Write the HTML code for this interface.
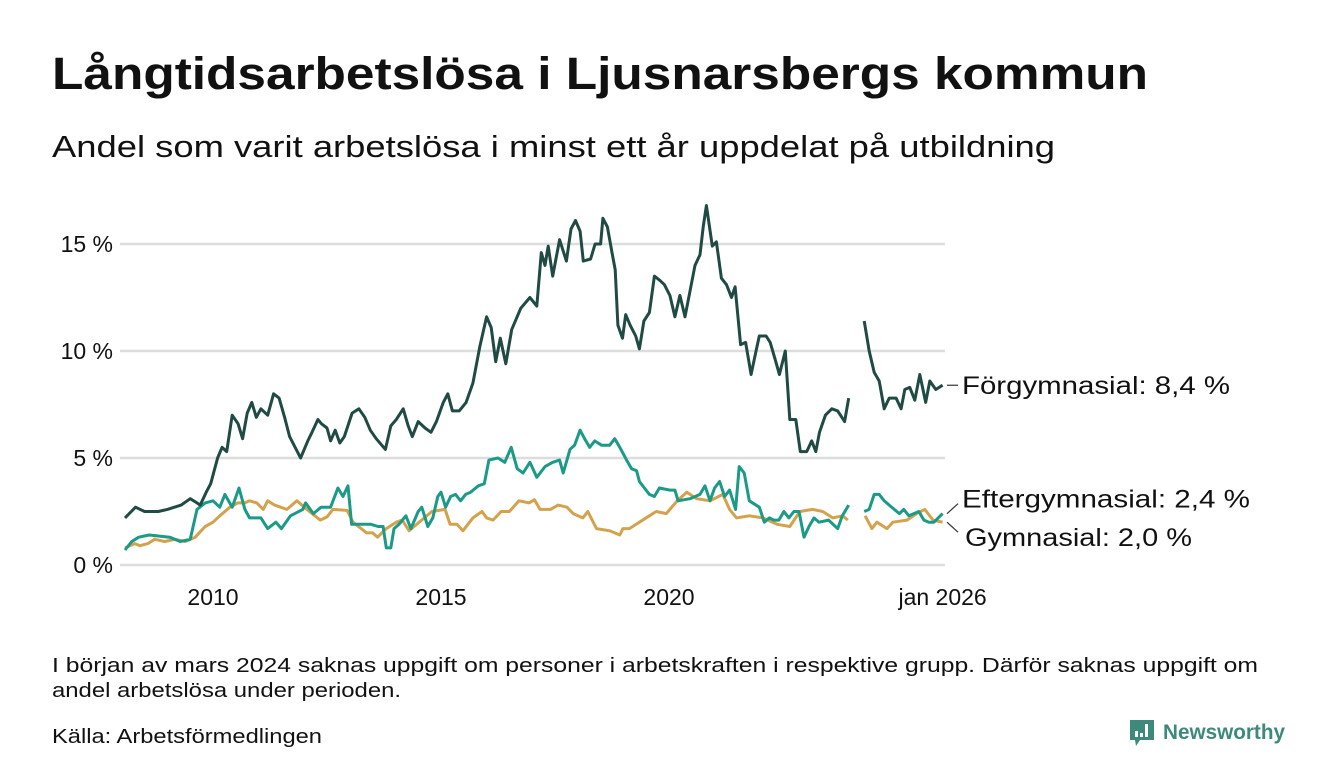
<!DOCTYPE html>
<html><head><meta charset="utf-8"><style>
html,body{margin:0;padding:0;background:#fff;}
svg{display:block;font-family:"Liberation Sans",sans-serif;}
</style></head><body>
<svg id="chart" width="1340" height="780" viewBox="0 0 1340 780">
<text x="52" y="89" font-size="45" font-weight="bold" fill="#111" textLength="1096" lengthAdjust="spacingAndGlyphs">Långtidsarbetslösa i Ljusnarsbergs kommun</text>
<text x="52" y="157" font-size="31" fill="#111" textLength="1003" lengthAdjust="spacingAndGlyphs">Andel som varit arbetslösa i minst ett år uppdelat på utbildning</text>
<g id="grid"></g>
<g id="yticks"></g>
<g id="xticks"></g>
<g id="series"></g>
<g id="labels"></g>
<text x="52" y="672" font-size="20" fill="#111" textLength="1206" lengthAdjust="spacingAndGlyphs">I början av mars 2024 saknas uppgift om personer i arbetskraften i respektive grupp. Därför saknas uppgift om</text>
<text x="52" y="697" font-size="20" fill="#111" textLength="349" lengthAdjust="spacingAndGlyphs">andel arbetslösa under perioden.</text>
<text x="52" y="743" font-size="20" fill="#111" textLength="270" lengthAdjust="spacingAndGlyphs">Källa: Arbetsförmedlingen</text>
<g>
<path d="M1130 720 h24 v20 h-14 l-4 6 l-1 -6 h-5 z" fill="#3d8a7c"/>
<rect x="1135" y="731" width="3" height="6" fill="#fff"/><rect x="1140" y="733" width="3" height="4" fill="#fff"/><rect x="1145" y="724" width="3" height="13" fill="#fff"/>
<text x="1163" y="739" font-size="21" font-weight="bold" fill="#3d8a7c" textLength="122" lengthAdjust="spacingAndGlyphs">Newsworthy</text>
</g>
</svg>
<script>
const yTicks=[0,5,10,15];
const yTickLabels=["0 %","5 %","10 %","15 %"];
const xTicks=[2010,2015,2020,2026];
const xTickLabels=["2010","2015","2020","jan 2026"];
const forDates=[2008.07,2008.3,2008.5,2008.8,2009.0,2009.3,2009.5,2009.65,2009.72,2009.85,2009.95,2010.1,2010.2,2010.3,2010.42,2010.55,2010.65,2010.75,2010.85,2010.95,2011.05,2011.2,2011.33,2011.45,2011.57,2011.68,2011.8,2011.92,2012.08,2012.17,2012.3,2012.38,2012.5,2012.58,2012.68,2012.78,2012.88,2013.05,2013.2,2013.33,2013.45,2013.58,2013.78,2013.9,2014.02,2014.17,2014.28,2014.37,2014.5,2014.65,2014.78,2014.9,2015.05,2015.15,2015.25,2015.4,2015.55,2015.7,2015.85,2016.0,2016.1,2016.2,2016.3,2016.42,2016.55,2016.75,2016.95,2017.1,2017.2,2017.28,2017.35,2017.45,2017.6,2017.75,2017.85,2017.95,2018.05,2018.12,2018.28,2018.38,2018.5,2018.55,2018.65,2018.75,2018.82,2018.88,2018.98,2019.05,2019.15,2019.27,2019.35,2019.45,2019.57,2019.68,2019.8,2019.9,2020.02,2020.13,2020.24,2020.35,2020.46,2020.57,2020.68,2020.75,2020.82,2020.95,2021.04,2021.15,2021.26,2021.37,2021.45,2021.57,2021.68,2021.8,2021.9,2021.98,2022.13,2022.22,2022.33,2022.42,2022.55,2022.65,2022.78,2022.88,2023.02,2023.13,2023.22,2023.3,2023.43,2023.57,2023.7,2023.85,2023.94,2024.1,2024.28,2024.39,2024.5,2024.61,2024.72,2024.83,2024.98,2025.09,2025.17,2025.28,2025.39,2025.5,2025.63,2025.72,2025.85,2026.0];
const forValues=[2.2,2.7,2.5,2.5,2.6,2.8,3.1,2.9,2.8,3.4,3.8,5.0,5.5,5.3,7.0,6.6,5.9,7.1,7.6,6.9,7.3,7.0,8.0,7.8,6.9,6.0,5.5,5.0,5.8,6.2,6.8,6.6,6.4,5.8,6.3,5.7,6.0,7.1,7.3,6.9,6.3,5.9,5.4,6.5,6.8,7.3,6.5,6.0,6.7,6.4,6.2,6.7,7.6,8.0,7.2,7.2,7.6,8.5,10.2,11.6,11.1,9.5,10.6,9.4,11.0,12.0,12.5,12.1,14.6,14.0,14.9,13.5,15.2,14.2,15.7,16.1,15.6,14.2,14.3,15.0,15.0,16.2,15.8,14.6,13.8,11.2,10.6,11.7,11.2,10.7,10.1,11.4,11.8,13.5,13.3,13.1,12.6,11.6,12.6,11.6,12.8,14.0,14.5,15.8,16.8,14.9,15.1,13.4,13.1,12.5,13.0,10.3,10.4,8.9,9.9,10.7,10.7,10.4,9.6,8.9,10.0,6.8,6.8,5.3,5.3,5.8,5.3,6.2,7.0,7.3,7.2,6.7,7.8,null,11.4,10.0,9.0,8.6,7.3,7.8,7.8,7.3,8.2,8.3,7.7,8.9,7.6,8.6,8.2,8.4];
const eftDates=[2008.07,2008.22,2008.37,2008.6,2009.05,2009.28,2009.5,2009.65,2009.83,2010.0,2010.15,2010.26,2010.42,2010.57,2010.7,2010.8,2011.05,2011.2,2011.38,2011.5,2011.7,2011.97,2012.03,2012.2,2012.37,2012.58,2012.74,2012.85,2012.96,2013.04,2013.46,2013.62,2013.73,2013.8,2013.9,2013.97,2014.08,2014.23,2014.34,2014.5,2014.58,2014.71,2014.82,2014.93,2015.0,2015.1,2015.21,2015.32,2015.43,2015.54,2015.65,2015.82,2015.95,2016.05,2016.25,2016.4,2016.54,2016.67,2016.8,2016.95,2017.1,2017.28,2017.45,2017.6,2017.68,2017.83,2017.93,2018.05,2018.15,2018.26,2018.37,2018.52,2018.7,2018.81,2018.92,2019.07,2019.18,2019.29,2019.35,2019.46,2019.57,2019.68,2019.79,2020.02,2020.13,2020.2,2020.46,2020.68,2020.79,2020.9,2021.0,2021.11,2021.22,2021.33,2021.46,2021.54,2021.65,2021.76,2021.98,2022.09,2022.2,2022.3,2022.41,2022.52,2022.63,2022.74,2022.85,2022.96,2023.07,2023.18,2023.29,2023.5,2023.7,2023.8,2023.94,2024.1,2024.28,2024.39,2024.5,2024.61,2024.72,2024.83,2024.94,2025.05,2025.15,2025.26,2025.37,2025.48,2025.59,2025.7,2025.81,2026.0];
const eftValues=[0.7,1.1,1.3,1.4,1.3,1.1,1.2,2.6,2.9,3.0,2.7,3.3,2.7,3.6,2.6,2.2,2.2,1.7,2.0,1.7,2.3,2.6,2.9,2.4,2.7,2.7,3.6,3.2,3.7,1.9,1.9,1.8,1.8,0.8,0.8,1.7,1.9,2.3,1.7,2.5,2.7,1.8,2.2,3.2,3.4,2.7,3.2,3.3,3.0,3.3,3.4,3.7,3.8,4.9,5.0,4.8,5.5,4.5,4.3,4.8,4.1,4.6,4.8,4.9,4.3,5.4,5.6,6.3,5.9,5.5,5.8,5.6,5.6,5.9,5.5,4.9,4.5,4.4,3.9,3.6,3.3,3.2,3.6,3.5,3.5,3.0,3.1,3.3,3.7,3.0,3.6,3.9,3.2,3.5,2.6,4.6,4.3,3.0,2.7,2.0,2.2,2.1,2.1,2.5,2.2,2.5,2.5,1.3,1.8,2.2,2.0,2.1,1.7,2.3,2.8,null,2.5,2.6,3.3,3.3,3.0,2.8,2.6,2.4,2.6,2.3,2.4,2.5,2.1,2.0,2.0,2.4];
const gymDates=[2008.07,2008.28,2008.4,2008.57,2008.72,2008.94,2009.17,2009.39,2009.61,2009.83,2010.0,2010.15,2010.37,2010.54,2010.7,2010.8,2010.96,2011.1,2011.2,2011.35,2011.62,2011.84,2012.06,2012.35,2012.5,2012.63,2012.94,2013.07,2013.37,2013.5,2013.61,2013.8,2014.02,2014.15,2014.3,2014.52,2014.8,2015.09,2015.2,2015.35,2015.48,2015.7,2015.9,2016.0,2016.14,2016.32,2016.5,2016.71,2016.93,2017.05,2017.17,2017.4,2017.57,2017.76,2017.9,2018.11,2018.22,2018.41,2018.7,2018.92,2018.99,2019.13,2019.35,2019.57,2019.72,2019.94,2020.18,2020.39,2020.61,2020.9,2021.18,2021.33,2021.48,2021.76,2022.06,2022.37,2022.65,2022.87,2023.15,2023.37,2023.59,2023.81,2023.92,2024.1,2024.3,2024.45,2024.56,2024.78,2024.91,2025.22,2025.43,2025.61,2025.79,2026.0];
const gymValues=[0.8,1.0,0.9,1.0,1.2,1.1,1.2,1.1,1.3,1.8,2.0,2.3,2.7,2.9,2.9,3.0,2.9,2.6,3.0,2.8,2.6,3.0,2.6,2.1,2.25,2.6,2.55,2.0,1.5,1.5,1.3,1.7,2.0,2.1,1.6,2.0,2.5,2.6,1.9,1.9,1.6,2.2,2.5,2.2,2.1,2.5,2.5,3.0,2.9,3.05,2.6,2.6,2.8,2.7,2.4,2.2,2.5,1.7,1.6,1.4,1.7,1.7,2.0,2.3,2.5,2.4,3.0,3.4,3.1,3.0,3.3,2.6,2.2,2.3,2.2,1.9,1.8,2.5,2.6,2.5,2.2,2.3,2.1,null,2.3,1.7,2.0,1.7,2.0,2.1,2.4,2.6,2.1,2.0];
const seriesNames=["Förgymnasial","Eftergymnasial","Gymnasial"];
const lastValueLabels=["8,4 %","2,4 %","2,0 %"];

const NS="http://www.w3.org/2000/svg";
const X=yr=>213+(yr-2010)*45.6;
const Y=v=>565-v*21.4;
function mk(tag,attrs,parent){const e=document.createElementNS(NS,tag);for(const k in attrs)e.setAttribute(k,attrs[k]);parent.appendChild(e);return e;}
const grid=document.getElementById('grid'),yt=document.getElementById('yticks'),xt=document.getElementById('xticks'),sg=document.getElementById('series'),lg=document.getElementById('labels');
yTicks.forEach((v,i)=>{
  const l=mk('line',{x1:120,x2:945,y1:Y(v),y2:Y(v),stroke:'#dddddd','stroke-width':2.5},grid);
  
  
  const t=mk('text',{x:113,y:Y(v)+8,'text-anchor':'end','font-size':23,fill:'#111'},yt);
  t.textContent=yTickLabels[i];
  
  
});
xTicks.forEach((v,i)=>{
  const t=mk('text',{x:X(v),y:605,'text-anchor':'middle','font-size':23,fill:'#111'},xt);
  t.textContent=xTickLabels[i];
  
  
});
function path(dates,vals){let d='',pen=false;dates.forEach((dt,i)=>{const v=vals[i];if(v===null||v===undefined){pen=false;return;}d+=(pen?'L':'M')+X(dt).toFixed(1)+' '+Y(v).toFixed(1);pen=true;});return d;}
const defs=[[gymDates,gymValues,'#d4a24c','line-gymnasial'],[eftDates,eftValues,'#1a9a87','line-eftergymnasial'],[forDates,forValues,'#1f4b44','line-forgymnasial']];
defs.forEach(s=>{
  const p=mk('path',{d:path(s[0],s[1]),fill:'none',stroke:s[2],'stroke-width':3,'stroke-linejoin':'round'},sg);
  
  
});
const lastF=forValues[forValues.length-1],lastE=eftValues[eftValues.length-1],lastG=gymValues[gymValues.length-1];
const ly=[Y(lastF),Y(lastE)-15,Y(lastG)+15];
const lx=[962,962,965];
const lw=[268,288,227];
[lastF,lastE,lastG].forEach((v,i)=>{
  const c=mk('line',{x1:947,y1:Y(v),x2:958,y2:ly[i]+(i==1?5:(i==2?-5:0)),stroke:'#333','stroke-width':1.2},lg);
  
  
  const t=mk('text',{x:lx[i],y:ly[i]+9,'font-size':25,fill:'#111',textLength:lw[i],lengthAdjust:'spacingAndGlyphs'},lg);
  t.textContent=seriesNames[i]+': '+lastValueLabels[i];
  
  
});
</script>
</body></html>
